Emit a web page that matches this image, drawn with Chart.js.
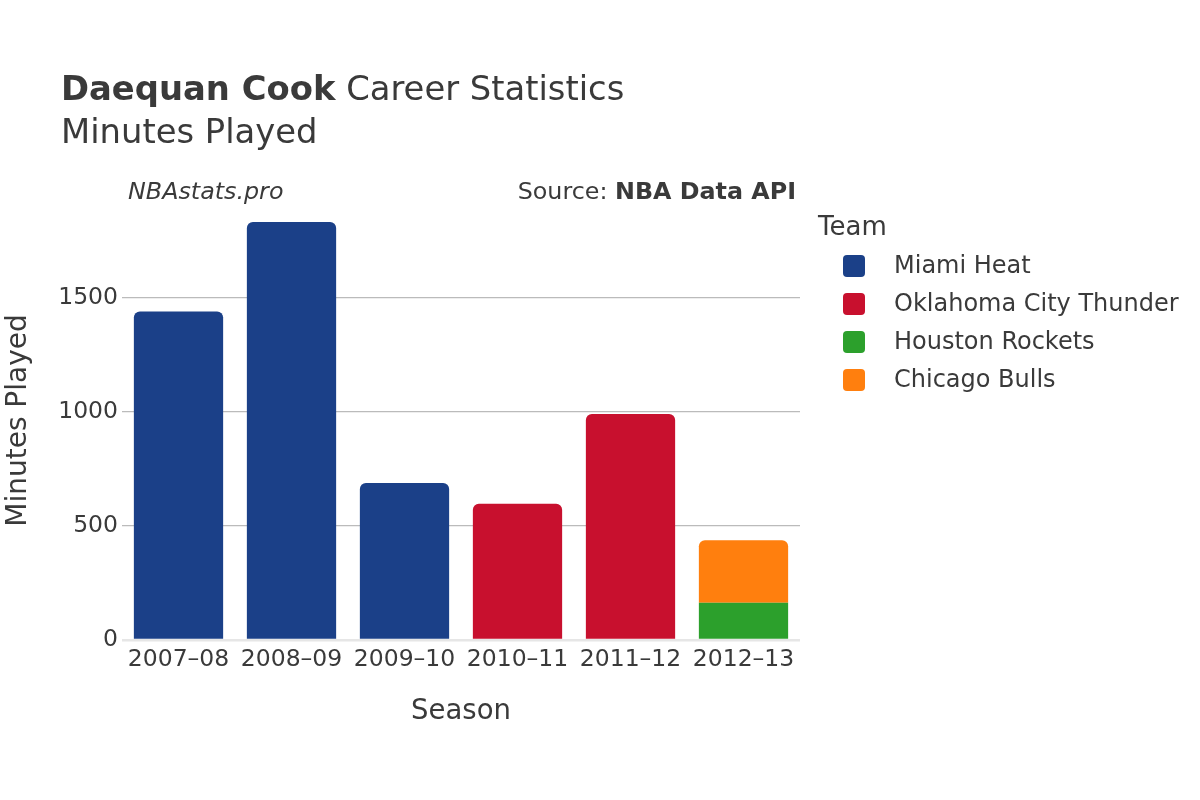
<!DOCTYPE html>
<html>
<head>
<meta charset="utf-8">
<script src="https://cdn.jsdelivr.net/npm/chart.js@4.4.1/dist/chart.umd.min.js"></script>
<style>
    html, body { margin: 0; padding: 0; background: #fff; }
    #wrap { width: 1200px; height: 800px; }
</style>
</head>
<body>
<div id="wrap"><canvas id="chart" width="1200" height="800"></canvas></div>
<script>
    'use strict';

    // Data
    const seasons = ['2007–08', '2008–09', '2009–10', '2010–11', '2011–12', '2012–13'];
    const teams = ['Miami Heat', 'Oklahoma City Thunder', 'Houston Rockets', 'Chicago Bulls'];
    const teamColors = ['#1b4088', '#c8102e', '#2ca02c', '#ff7f0e'];
    const miamiMinutes = [1440, 1833, 688, null, null, null];
    const okcMinutes = [null, null, null, 597, 991, null];
    const houstonMinutes = [null, null, null, null, null, 163];
    const chicagoMinutes = [null, null, null, null, null, 274];
    const yTicks = [0, 500, 1000, 1500];

    const FONT = '"DejaVu Sans", sans-serif';
    const TEXT = '#3a3a3a';

    const seriesValues = [miamiMinutes, okcMinutes, houstonMinutes, chicagoMinutes];

    // Titles, source note and legend drawn on the canvas
    const decorPlugin = {
        id: 'decor',
        afterDraw(chart) {
            const ctx = chart.ctx;
            ctx.save();
            ctx.fillStyle = TEXT;
            ctx.textBaseline = 'alphabetic';
            ctx.textAlign = 'left';

            ctx.font = 'bold 33.8px ' + FONT;
            ctx.fillText('Daequan Cook', 61, 100);
            const w = ctx.measureText('Daequan Cook').width;
            ctx.font = '33.8px ' + FONT;
            ctx.fillText(' Career Statistics', 61 + w, 100);
            ctx.fillText('Minutes Played', 61, 143);

            ctx.font = 'italic 23.8px ' + FONT;
            ctx.fillText('NBAstats.pro', 128, 199);

            ctx.textAlign = 'right';
            ctx.font = 'bold 23.8px ' + FONT;
            ctx.fillText('NBA Data API', 796, 199);
            const bw = ctx.measureText('NBA Data API').width;
            ctx.font = '23.8px ' + FONT;
            ctx.fillText('Source: ', 796 - bw, 199);

            // Legend
            ctx.textAlign = 'left';
            ctx.font = '26px ' + FONT;
            ctx.fillText('Team', 818, 235);
            ctx.font = '24px ' + FONT;
            ctx.textBaseline = 'middle';
            chart.data.datasets.forEach((ds, i) => {
                const cy = 266 + i * 38;
                ctx.fillStyle = ds.backgroundColor;
                ctx.beginPath();
                ctx.roundRect(843, cy - 11, 22, 22, 4);
                ctx.fill();
                ctx.fillStyle = TEXT;
                ctx.fillText(ds.label, 894, cy + 1);
            });
            ctx.restore();
        }
    };

    const ctx = document.getElementById('chart').getContext('2d');
    new Chart(ctx, {
        type: 'bar',
        data: {
            labels: seasons,
            datasets: teams.map((name, i) => ({
                label: name,
                data: seriesValues[i],
                backgroundColor: teamColors[i],
                borderRadius: 6,
                borderSkipped: 'start',
                barPercentage: 0.79,
                categoryPercentage: 1.0
            }))
        },
        options: {
            responsive: false,
            animation: false,
            layout: {
                padding: { top: 201, right: 400, bottom: 0, left: 0 }
            },
            plugins: {
                legend: { display: false },
                title: { display: false },
                tooltip: { enabled: false }
            },
            scales: {
                x: {
                    stacked: true,
                    grid: { display: false },
                    border: { display: false },
                    ticks: {
                        color: TEXT,
                        font: { family: FONT, size: 23.5 },
                        padding: -2,
                        maxRotation: 0
                    },
                    title: {
                        display: true,
                        text: 'Season',
                        color: TEXT,
                        font: { family: FONT, size: 27.5 },
                        padding: { top: 0, bottom: 72 }
                    },
                    afterFit(scale) { scale.height = 160; }
                },
                y: {
                    stacked: true,
                    min: 0,
                    max: 1925,
                    afterBuildTicks(scale) {
                        scale.ticks = yTicks.map(v => ({ value: v }));
                    },
                    grid: {
                        color: c => (c.tick && c.tick.value === 0) ? '#e6e6e6' : '#bbbbbb',
                        lineWidth: c => (c.tick && c.tick.value === 0) ? 2.5 : 1.3,
                        drawTicks: false
                    },
                    border: { display: false },
                    ticks: {
                        color: TEXT,
                        font: { family: FONT, size: 23.5 },
                        padding: 4,
                        callback: v => String(v)
                    },
                    title: {
                        display: true,
                        text: 'Minutes Played',
                        color: TEXT,
                        font: { family: FONT, size: 28 },
                        padding: { top: 2, bottom: 0 }
                    },
                    afterFit(scale) { scale.width = 122; }
                }
            }
        },
        plugins: [decorPlugin]
    });
</script>
</body>
</html>
